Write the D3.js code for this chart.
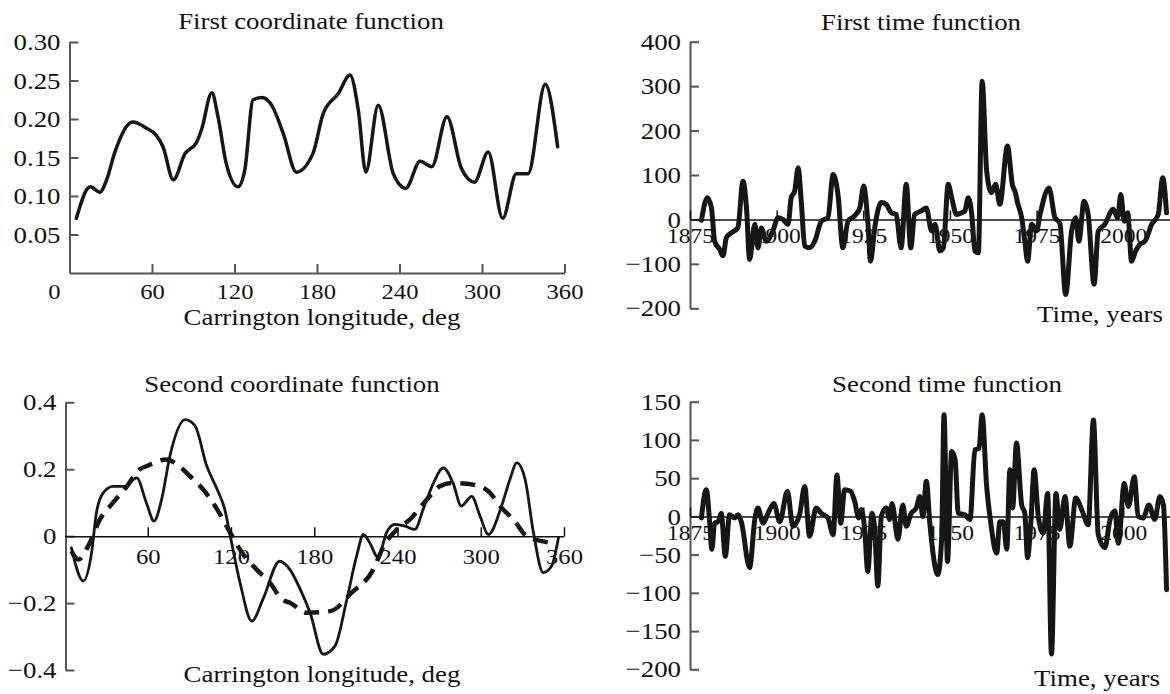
<meta charset="utf-8">
<script src="https://cdn.jsdelivr.net/npm/d3@7/dist/d3.min.js"></script>

<style>
  body { margin: 0; background: #fff; }
  text { font-family: "Liberation Serif", "Times New Roman", serif; fill: #111; }
</style>

<div id="chart"></div>

<script>
// --- data ---
// first coordinate function
var lon1 = [5,15,22,27,33,46,56,63,68,75.5,84,92.5,96,103.5,108,114,122.5,127.5,133.5,140,147,155.5,165,177,184.5,195.5,204,210,215.5,224.5,235.5,244.5,255,263.5,274.5,285,294.5,304.5,315,325,333.5,346,355];
var coord1 = [0.071,0.112,0.105,0.121,0.157,0.196,0.188,0.179,0.164,0.121,0.155,0.170,0.186,0.234,0.203,0.142,0.112,0.134,0.225,0.228,0.218,0.181,0.131,0.155,0.207,0.233,0.257,0.212,0.131,0.218,0.129,0.110,0.145,0.138,0.203,0.136,0.118,0.157,0.071,0.129,0.129,0.245,0.164];

// second coordinate function, solid and dashed curves
var lon2 = [5,13.5,19.5,23,28,35,43.5,52,59,64.5,70,76,87,94,102.5,110,115.5,119.5,126.5,135,143,155,162.5,170,177,186.5,195,203.5,210.5,215.5,220,226,232,238,245.5,252.5,258.5,266,273,280,286,293.5,299.5,305.5,315,321,326,332,338,345,351,356];
var coord2 = [-0.035,-0.134,-0.05,0.07,0.13,0.149,0.149,0.174,0.10,0.045,0.11,0.24,0.348,0.33,0.21,0.14,0.08,0,-0.139,-0.254,-0.189,-0.075,-0.10,-0.16,-0.229,-0.353,-0.328,-0.189,-0.06,0.005,-0.02,-0.064,0.01,0.035,0.03,0.02,0.08,0.159,0.204,0.159,0.09,0.119,0.06,0.005,0.09,0.169,0.219,0.169,0.01,-0.109,-0.09,-0.005];
var lon2d = [5,10,17,25.5,35,45,54,59,73.5,79.5,90.5,100,110,119.5,128,138.5,148,157,162.5,174.5,191.5,207,222.5,230,239.5,249,261,270.5,279,294.5,305.5,315,324.5,333,344,350];
var coord2d = [-0.045,-0.07,-0.03,0.05,0.10,0.149,0.199,0.209,0.229,0.219,0.179,0.139,0.08,0.01,-0.05,-0.10,-0.139,-0.19,-0.199,-0.229,-0.224,-0.169,-0.10,-0.03,0.02,0.05,0.109,0.149,0.159,0.154,0.134,0.085,0.045,0,-0.015,-0.02];

// first time function
var years1 = [1878.3,1880,1881.2,1882.1,1883.6,1884.5,1885.5,1886.9,1888.8,1890.3,1891.3,1892.2,1893.7,1894.6,1895.6,1897,1898.9,1900.4,1901.8,1903.3,1904.2,1905.2,1906.2,1907.1,1908.1,1909.5,1911,1912.9,1914.8,1916.3,1917.7,1919.1,1920.6,1922.5,1924,1925.1,1926.3,1927.1,1928.3,1930.2,1931.6,1933.1,1934.5,1935.9,1937.4,1938.7,1939.8,1941.7,1943.2,1944.7,1945.7,1947.1,1948.1,1949.5,1950.5,1951.9,1953.4,1954.3,1955.3,1956.3,1957.2,1958.2,1959.3,1960.6,1962,1963.2,1964.4,1966.6,1968,1968.9,1969.5,1970.7,1971.6,1972.4,1973.6,1975,1976,1978.6,1980.3,1981.7,1983.4,1985.1,1986.3,1987.2,1988.7,1989.9,1991.6,1992.8,1994.7,1997.1,1998.4,1999.3,2000.3,2001.3,2002.4,2003.6,2004.8,2006.3,2008.2,2010.1,2011.4,2012.5];
var time1 = [-2,49,26,-49,-68,-82,-41,-30,-19,86,26,-90,-11,-64,-19,-49,-26,4,0,-11,49,64,116,41,-60,-64,-49,-4,4,101,56,-64,-4,8,26,75,-4,-94,-19,38,34,15,11,-64,79,-64,11,19,26,-26,-11,-71,-64,79,49,11,15,19,49,11,-71,-75,311,109,60,79,34,165,79,60,38,4,-49,-94,-11,-26,11,71,4,-8,-169,-26,4,-49,41,11,-146,-26,-11,23,4,56,-4,15,-94,-71,-56,-49,-11,11,94,15];

// second time function
var years2 = [1878.3,1879.7,1880.7,1881.3,1882.1,1883.1,1884,1885.2,1886.4,1887.9,1888.8,1889.8,1892.2,1893.7,1894.6,1896.1,1897.5,1899.2,1900.9,1903.1,1904.7,1906.6,1908.1,1909.5,1911.4,1912.9,1914.8,1916.3,1917.4,1918.5,1919.6,1921.3,1922.5,1923.7,1924.4,1925.4,1926.3,1927.5,1928.3,1929.2,1930.2,1931.6,1932.6,1933.3,1935,1936.4,1937.4,1938.8,1940.3,1941.3,1942.2,1943.2,1944.2,1946.5,1947.6,1948.3,1949.3,1950.5,1951.5,1952.4,1954.3,1955.8,1957.2,1958.4,1959.3,1960.6,1961.6,1963.5,1964.4,1965.4,1966.4,1967.3,1968.1,1969.2,1970.7,1971.6,1972.4,1973.4,1974.3,1975.5,1976.9,1978.2,1979.3,1980.6,1981.7,1983.2,1984.6,1986.3,1988,1989.9,1991.4,1992.8,1994.7,1996.2,1997.6,1998.6,2000.3,2001.5,2003.2,2004.3,2005.8,2007.4,2009.1,2010.6,2011.6,2012.5];
var time2 = [-2,35,-9,-43,-9,-7,4,-52,2,-2,2,-7,-67,-4,11,-9,4,17,-7,33,-13,2,39,-26,11,4,-2,-24,54,-9,35,33,20,-2,9,-17,-72,4,-17,-91,0,11,-4,17,-30,15,-13,4,11,26,0,46,-9,-76,-30,133,-59,85,74,4,2,-4,87,89,133,39,-2,-48,-7,-7,-43,61,11,96,15,4,-54,-4,61,0,-22,30,-180,30,-17,26,-39,24,9,-11,126,-24,-41,-4,7,-35,43,13,52,0,-2,15,-4,26,15,-96];

// tick labels
var lonTicks = [0,60,120,180,240,300,360];
var yearTicks = [1875,1900,1925,1950,1975,2000];
var y1Ticks = [0.05,0.10,0.15,0.20,0.25,0.30];
var y2Ticks = [-0.4,-0.2,0,0.2,0.4];
var t1Ticks = [-200,-100,0,100,200,300,400];
var t2Ticks = [-200,-150,-100,-50,0,50,100,150];

var SX = 1.12; // the printed text is a bit wider than the serif font

var svg = d3.select("#chart")
  .append("svg")
    .attr("width", 1170)
    .attr("height", 694);

function label(txt, x, y, size, anchor) {
  svg.append("text")
    .attr("transform", "translate(" + x + "," + y + ") scale(" + SX + ",1)")
    .attr("text-anchor", anchor || "middle")
    .attr("font-size", size)
    .text(txt);
}

function styleAxis(g, size, col, w) {
  g.attr("font-family", "Liberation Serif").attr("font-size", size);
  g.select(".domain").attr("stroke", col).attr("stroke-width", w);
  g.selectAll(".tick line").attr("stroke", col).attr("stroke-width", w);
  g.selectAll(".tick text").attr("fill", "#111").attr("transform", "scale(" + SX + ",1)");
}

function yAxis(y, x0, ticks, fmt) {
  svg.append("g")
    .attr("transform", "translate(" + x0 + ",0)")
    .call(d3.axisLeft(y).tickValues(ticks).tickFormat(fmt).tickSize(-9).tickSizeOuter(0).tickPadding(8))
    .call(g => styleAxis(g, 24, "#555", 2));
}

function xAxis(x, y0, ticks, fmt, pad, size, col, w) {
  return svg.append("g")
    .attr("transform", "translate(0," + y0 + ")")
    .call(d3.axisBottom(x).tickValues(ticks).tickFormat(fmt).tickSize(-9).tickSizeOuter(0).tickPadding(pad))
    .call(g => styleAxis(g, size, col, w));
}

function curve(x, y, xs, ys, w, dash) {
  var line = d3.line()
    .x(function(d) { return x(d[0]); })
    .y(function(d) { return y(d[1]); })
    .curve(d3.curveMonotoneX);
  svg.append("path")
    .datum(xs.map(function(v, i) { return [v, ys[i]]; }))
    .attr("d", line)
    .attr("fill", "none")
    .attr("stroke", "#161616")
    .attr("stroke-width", w)
    .attr("stroke-linejoin", "round")
    .attr("stroke-linecap", dash ? "butt" : "round")
    .attr("stroke-dasharray", dash || null);
}

// ---- First coordinate function ----
var x1 = d3.scaleLinear().domain([0, 360]).range([69.5, 564.5]);
var y1 = d3.scaleLinear().domain([0, 0.30]).range([273, 42]);
yAxis(y1, 69.5, y1Ticks, d3.format(".2f"));
var ax1 = xAxis(x1, 273, lonTicks, d3.format("d"), 10, 22, "#555", 2);
ax1.selectAll(".tick text").filter(function(d) { return d === 0; }).attr("x", -14);
curve(x1, y1, lon1, coord1, 3.5);
label("First coordinate function", 311, 29, 24);
label("Carrington longitude, deg", 322, 325, 24);

// ---- First time function ----
var xt1 = d3.scaleLinear().domain([1875, 2013.5]).range([690, 1170]);
var yt1 = d3.scaleLinear().domain([-200, 400]).range([308.3, 41.7]);
yAxis(yt1, 690, t1Ticks, d3.format("d"));
xAxis(xt1, yt1(0), yearTicks, d3.format("d"), 9, 21, "#111", 1.5);
curve(xt1, yt1, years1, time1, 5);
label("First time function", 921, 30, 24);
label("Time, years", 1163, 322, 24, "end");

// ---- Second coordinate function ----
var x2 = d3.scaleLinear().domain([0, 360]).range([64.5, 564]);
var y2 = d3.scaleLinear().domain([-0.4, 0.4]).range([670, 402.3]);
yAxis(y2, 65.5, y2Ticks, function(d) { return d === 0 ? "0" : d3.format(".1f")(d); });
xAxis(x2, y2(0), lonTicks.slice(1), d3.format("d"), 12, 22, "#111", 1.5);
curve(x2, y2, lon2, coord2, 2.8);
curve(x2, y2, lon2d, coord2d, 4.5, "15,9");
label("Second coordinate function", 292, 392, 24);
label("Carrington longitude, deg", 322, 682, 24);

// ---- Second time function ----
var xt2 = d3.scaleLinear().domain([1875, 2013.5]).range([690, 1170]);
var yt2 = d3.scaleLinear().domain([-200, 150]).range([669.3, 401.7]);
yAxis(yt2, 690, t2Ticks, d3.format("d"));
xAxis(xt2, yt2(0), yearTicks, d3.format("d"), 9, 21, "#111", 1.5);
curve(xt2, yt2, years2, time2, 5);
label("Second time function", 947, 392, 24);
label("Time, years", 1160, 686, 24, "end");
</script>
